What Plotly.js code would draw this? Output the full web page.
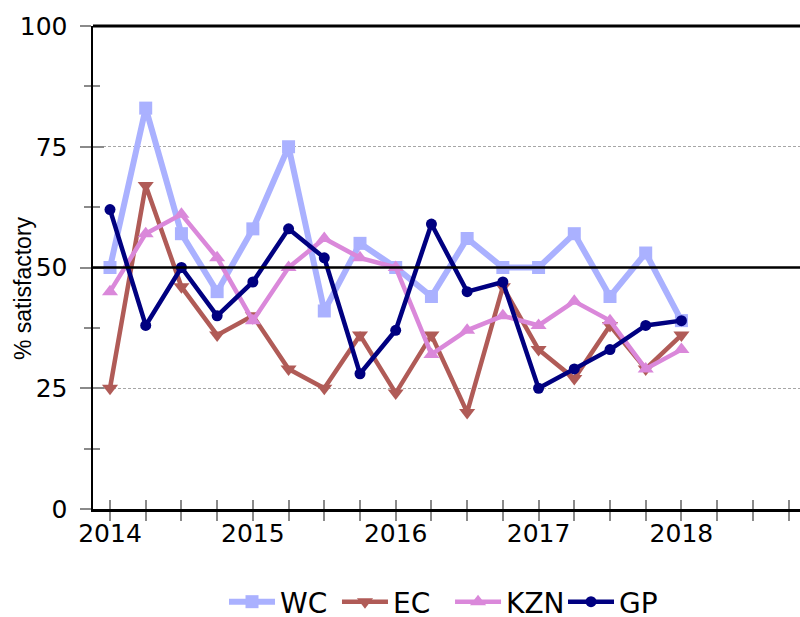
<!DOCTYPE html>
<html>
<head>
<meta charset="utf-8">
<script src="https://cdn.plot.ly/plotly-3.0.1.min.js"></script>
<style>
html,body{margin:0;padding:0;background:#fff;}
#chart{width:800px;height:617px;}
</style>
</head>
<body>
<div id="chart"></div>
<script>
// Quarterly survey points (decimal years)
const periods = [2014, 2014.25, 2014.5, 2014.75, 2015, 2015.25, 2015.5, 2015.75, 2016, 2016.25, 2016.5, 2016.75, 2017, 2017.25, 2017.5, 2017.75, 2018];
const WC  = [50, 83, 57, 45, 58, 75, 41, 55, 50, 44, 56, 50, 50, 57, 44, 53, 39];
const EC  = [25, 67, 46, 36, 40, 29, 25, 36, 24, 36, 20, 46, 33, 27, 38, 29, 36];
const KZN = [45, 57, 61, 52, 39, 50, 56, 52, 50, 32, 37, 40, 38, 43, 39, 29, 33];
const GP  = [62, 38, 50, 40, 47, 58, 52, 28, 37, 59, 45, 47, 25, 29, 33, 38, 39];
const seriesNames = ['WC', 'EC', 'KZN', 'GP'];
const yTickVals = [0, 25, 50, 75, 100];
const xTickVals = [2014, 2015, 2016, 2017, 2018];
const refLines = [50, 100];

const tickFont = {family: 'DejaVu Sans, Arial, sans-serif', size: 25, color: '#000'};
const legendFont = {family: 'DejaVu Sans, Arial, sans-serif', size: 28, color: '#000'};
const gray = '#8a8a8a';
const legendIds = ['legend', 'legend2', 'legend3', 'legend4'];
const legendX = [0.1853, 0.3451, 0.505, 0.6648];

const traces = [
  {x: periods, y: WC, name: seriesNames[0], mode: 'lines+markers', legend: legendIds[0],
   line: {color: '#aab1ff', width: 6}, marker: {symbol: 'square', size: 13, color: '#aab1ff'}},
  {x: periods, y: EC, name: seriesNames[1], mode: 'lines+markers', legend: legendIds[1],
   line: {color: '#b05b57', width: 4.5}, marker: {symbol: 'triangle-down', size: 14, color: '#b05b57'}},
  {x: periods, y: KZN, name: seriesNames[2], mode: 'lines+markers', legend: legendIds[2],
   line: {color: '#da88da', width: 4.5}, marker: {symbol: 'triangle-up', size: 14, color: '#da88da'}},
  {x: periods, y: GP, name: seriesNames[3], mode: 'lines+markers', legend: legendIds[3],
   line: {color: '#000080', width: 4.5}, marker: {symbol: 'circle', size: 11, color: '#000080'}},
  // empty helper trace so the overlay axes (inner half of the crossing ticks) are drawn
  {x: [], y: [], xaxis: 'x2', yaxis: 'y2', showlegend: false, hoverinfo: 'skip'}
];

const xr = [2013.881, 2018.83];
const yr = [0, 100];

const layout = {
  width: 800, height: 617,
  margin: {l: 93, r: 0, t: 26, b: 108, autoexpand: false},
  paper_bgcolor: '#fff', plot_bgcolor: 'rgba(0,0,0,0)',
  showlegend: true,
  xaxis: {
    range: xr, tickmode: 'array', tickvals: xTickVals, ticktext: xTickVals.map(String),
    ticks: 'outside', ticklen: 9, tickwidth: 2, tickcolor: gray,
    minor: {tick0: 2014, dtick: 0.25, ticks: 'outside', ticklen: 9, tickwidth: 2, tickcolor: gray, showgrid: false},
    showline: true, linecolor: '#000', linewidth: 2.5, showgrid: false, zeroline: false,
    tickfont: tickFont, ticklabelstandoff: -9, fixedrange: true
  },
  xaxis2: {
    overlaying: 'x', anchor: 'y2', side: 'bottom', range: xr,
    tickmode: 'array', tickvals: xTickVals, showticklabels: false,
    ticks: 'inside', ticklen: 9, tickwidth: 2, tickcolor: gray,
    minor: {tick0: 2014, dtick: 0.25, ticks: 'inside', ticklen: 9, tickwidth: 2, tickcolor: gray, showgrid: false},
    showline: false, showgrid: false, zeroline: false
  },
  yaxis: {
    range: yr, tickmode: 'array', tickvals: yTickVals, ticktext: yTickVals.map(String),
    ticks: 'outside', ticklen: 11, tickwidth: 2, tickcolor: gray,
    minor: {tick0: 0, dtick: 12.5, ticks: 'outside', ticklen: 7, tickwidth: 2, tickcolor: gray, showgrid: false},
    showline: true, linecolor: '#000', linewidth: 2.5,
    showgrid: true, gridcolor: '#a6a6a6', gridwidth: 1, griddash: '3px,2px',
    zeroline: false, tickfont: tickFont, ticklabelstandoff: 7, fixedrange: true
  },
  yaxis2: {
    overlaying: 'y', anchor: 'x2', side: 'left', range: yr,
    tickmode: 'array', tickvals: yTickVals, showticklabels: false,
    ticks: 'inside', ticklen: 11, tickwidth: 2, tickcolor: gray,
    minor: {tick0: 0, dtick: 12.5, ticks: 'inside', ticklen: 7, tickwidth: 2, tickcolor: gray, showgrid: false},
    showline: false, showgrid: false, zeroline: false
  },
  shapes: refLines.map(v => ({
    type: 'line', xref: 'paper', x0: 0, x1: 1, yref: 'paper',
    y0: (v - yr[0]) / (yr[1] - yr[0]), y1: (v - yr[0]) / (yr[1] - yr[0]),
    line: {color: '#000', width: v === 100 ? 3 : 2.5}, layer: 'above'
  })),
  annotations: [{
    text: '% satisfactory', xref: 'paper', yref: 'paper',
    x: -0.1, y: 0.458, xanchor: 'center', yanchor: 'middle', textangle: -90, showarrow: false,
    font: {family: 'Liberation Sans, Arial, sans-serif', size: 23, color: '#000'}
  }]
};

legendIds.forEach((id, i) => {
  layout[id] = {
    orientation: 'h', x: legendX[i], xanchor: 'left', y: -0.1925, yanchor: 'middle',
    font: legendFont, itemwidth: 46, bgcolor: 'rgba(0,0,0,0)', itemclick: false
  };
});

Plotly.newPlot('chart', traces, layout, {displayModeBar: false, staticPlot: true});
</script>
</body>
</html>
